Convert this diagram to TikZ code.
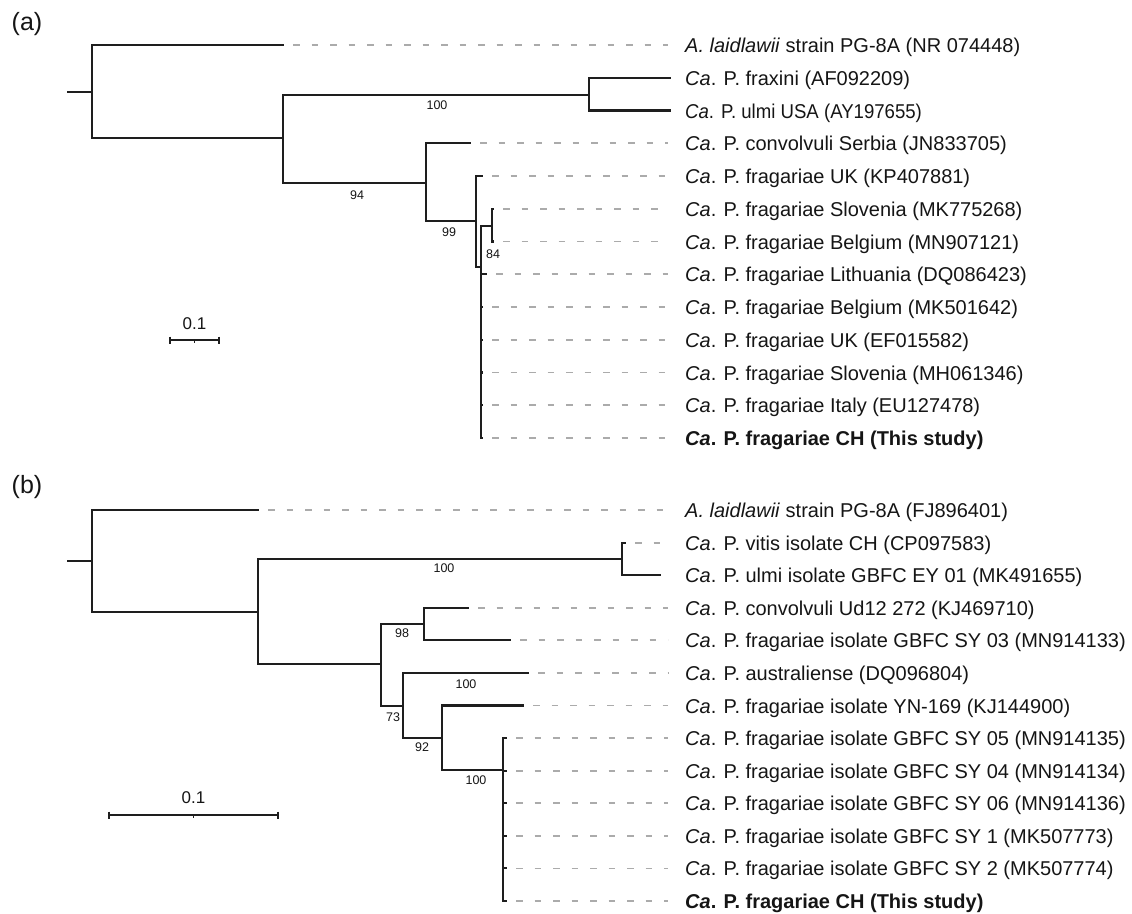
\documentclass[tikz,border=0pt]{standalone}
\usepackage{fontspec}
\setmainfont{Liberation Sans}
\usetikzlibrary{calc}
\definecolor{linec}{HTML}{1E1E1E}
\definecolor{dashc}{HTML}{ABABAB}
\definecolor{txtc}{HTML}{151515}
\newcommand{\mkleaf}[5]{%
  \coordinate (#1) at (#2,#3);
  \node[lab] (t#1) at (685,#3+7.5) {#5};
  \ifnum#4=1 \draw[dl] ($(#1)+(10,0)$) -- ($(t#1.west |- #1)+(-17,0)$);\fi
}
\begin{document}
\begin{tikzpicture}[x=1pt,y=-1pt,
  br/.style={line width=2.1pt, draw=linec, line cap=rect},
  dl/.style={line width=1.8pt, draw=dashc, dash pattern=on 6.5pt off 12pt},
  lab/.style={anchor=base west, inner sep=0pt, font=\fontsize{20}{24}\selectfont, text=txtc},
  bs/.style={inner sep=0pt, font=\fontsize{12.5}{14}\selectfont, text=txtc},
  sbl/.style={inner sep=0pt, font=\fontsize{17}{20}\selectfont, text=txtc},
  pl/.style={inner sep=0pt, font=\fontsize{25}{29}\selectfont, text=txtc},
  sb/.style={line width=2pt, draw=linec}
]
\useasboundingbox (0,0) rectangle (1132,913);

% ---------------- panel (a) ----------------
\node[pl] (pa) at (27,24) {(a)};
\coordinate (ra0) at (68,92);
\coordinate (ra) at (92,92);
\coordinate (n1) at (283,138);
\coordinate (n2) at (589,95);
\coordinate (n3) at (426,183);
\coordinate (n4) at (476,221);
\coordinate (n5) at (481,267);
\coordinate (n6) at (492,226);

\mkleaf{a1}{283}{45}{1}{\textit{A. laidlawii} strain PG-8A (NR 074448)}
\mkleaf{a2}{670}{77.75}{0}{\textit{Ca}. P. fraxini (AF092209)}
\mkleaf{a3}{670}{110.5}{0}{\scalebox{0.93}[1]{\textit{Ca}. P. ulmi USA (AY197655)}}
\mkleaf{a4}{470}{143.25}{1}{\textit{Ca}. P. convolvuli Serbia (JN833705)}
\mkleaf{a5}{482}{176}{1}{\textit{Ca}. P. fragariae UK (KP407881)}
\mkleaf{a6}{493}{208.75}{1}{\textit{Ca}. P. fragariae Slovenia (MK775268)}
\mkleaf{a7}{493}{241.5}{1}{\textit{Ca}. P. fragariae Belgium (MN907121)}
\mkleaf{a8}{486}{274.25}{1}{\textit{Ca}. P. fragariae Lithuania (DQ086423)}
\mkleaf{a9}{482}{307}{1}{\textit{Ca}. P. fragariae Belgium (MK501642)}
\mkleaf{a10}{482}{339.75}{1}{\textit{Ca}. P. fragariae UK (EF015582)}
\mkleaf{a11}{482}{372.5}{1}{\textit{Ca}. P. fragariae Slovenia (MH061346)}
\mkleaf{a12}{482}{405.25}{1}{\textit{Ca}. P. fragariae Italy (EU127478)}
\mkleaf{a13}{482}{438}{1}{\textbf{\textit{Ca}. P. fragariae CH (This study)}}

\draw[br] (ra0) -- (ra);
\draw[br] (ra) |- (a1);
\draw[br] (ra) |- (n1);
\draw[br] (n1) |- (n2);
\draw[br] (n1) |- (n3);
\draw[br] (n2) |- (a2);
\draw[br] (n2) |- (a3);
\draw[br] (n3) |- (a4);
\draw[br] (n3) |- (n4);
\draw[br] (n4) |- (a5);
\draw[br] (n4) |- (n5);
\draw[br] (n5) |- (n6);
\draw[br] (n6) |- (a6);
\draw[br] (n6) |- (a7);
\foreach \l in {a8,a9,a10,a11,a12,a13} \draw[br] (n5) |- (\l);

\node[bs] (ba1) at (437,105) {100};
\node[bs] (ba2) at (357,195) {94};
\node[bs] (ba3) at (449,232) {99};
\node[bs] (ba4) at (493,254) {84};

% scale bar (a)
\coordinate (sa1) at (170,340);
\coordinate (sa2) at (219,340);
\coordinate (sam) at (194.5,340);
\draw[sb] (sa1) -- (sa2);
\draw[sb,line width=1.5pt] ($(sa1)+(0,-3.5)$) -- ($(sa1)+(0,3.5)$);
\draw[sb,line width=1.5pt] ($(sa2)+(0,-3.5)$) -- ($(sa2)+(0,3.5)$);
\draw[sb,line width=1pt] (sam) -- ($(sam)+(0,2.5)$);
\node[sbl] (la) at (194.5,324) {0.1};

% ---------------- panel (b) ----------------
\node[pl] (pb) at (27,487) {(b)};
\coordinate (rb0) at (68,561);
\coordinate (rb) at (92,561);
\coordinate (m1) at (258,612);
\coordinate (m2) at (622,559);
\coordinate (m3) at (381,664);
\coordinate (m4) at (424,624);
\coordinate (m5) at (403,706);
\coordinate (m6) at (442,738);
\coordinate (m7) at (503,770);

\mkleaf{b1}{258}{510}{1}{\textit{A. laidlawii} strain PG-8A (FJ896401)}
\mkleaf{b2}{625}{542.6}{1}{\textit{Ca}. P. vitis isolate CH (CP097583)}
\mkleaf{b3}{660}{575.2}{0}{\textit{Ca}. P. ulmi isolate GBFC EY 01 (MK491655)}
\mkleaf{b4}{468}{607.7}{1}{\textit{Ca}. P. convolvuli Ud12 272 (KJ469710)}
\mkleaf{b5}{510}{640.3}{1}{\textit{Ca}. P. fragariae isolate GBFC SY 03 (MN914133)}
\mkleaf{b6}{528}{672.9}{1}{\textit{Ca}. P. australiense (DQ096804)}
\mkleaf{b7}{523}{705.5}{1}{\textit{Ca}. P. fragariae isolate YN-169 (KJ144900)}
\mkleaf{b8}{506}{738.1}{1}{\textit{Ca}. P. fragariae isolate GBFC SY 05 (MN914135)}
\mkleaf{b9}{506}{770.7}{1}{\textit{Ca}. P. fragariae isolate GBFC SY 04 (MN914134)}
\mkleaf{b10}{506}{803.2}{1}{\textit{Ca}. P. fragariae isolate GBFC SY 06 (MN914136)}
\mkleaf{b11}{506}{835.8}{1}{\textit{Ca}. P. fragariae isolate GBFC SY 1 (MK507773)}
\mkleaf{b12}{506}{868.4}{1}{\textit{Ca}. P. fragariae isolate GBFC SY 2 (MK507774)}
\mkleaf{b13}{506}{901}{1}{\textbf{\textit{Ca}. P. fragariae CH (This study)}}

\draw[br] (rb0) -- (rb);
\draw[br] (rb) |- (b1);
\draw[br] (rb) |- (m1);
\draw[br] (m1) |- (m2);
\draw[br] (m1) |- (m3);
\draw[br] (m2) |- (b2);
\draw[br] (m2) |- (b3);
\draw[br] (m3) |- (m4);
\draw[br] (m3) |- (m5);
\draw[br] (m4) |- (b4);
\draw[br] (m4) |- (b5);
\draw[br] (m5) |- (b6);
\draw[br] (m5) |- (m6);
\draw[br] (m6) |- (b7);
\draw[br] (m6) |- (m7);
\foreach \l in {b8,b9,b10,b11,b12,b13} \draw[br] (m7) |- (\l);

\node[bs] (bb1) at (444,568) {100};
\node[bs] (bb2) at (402,633) {98};
\node[bs] (bb3) at (466,684) {100};
\node[bs] (bb4) at (393,717) {73};
\node[bs] (bb5) at (422,747) {92};
\node[bs] (bb6) at (476,780) {100};

% scale bar (b)
\coordinate (sb1) at (109,815);
\coordinate (sb2) at (278,815);
\coordinate (sbm) at (193.5,815);
\draw[sb] (sb1) -- (sb2);
\draw[sb,line width=1.5pt] ($(sb1)+(0,-3.5)$) -- ($(sb1)+(0,3.5)$);
\draw[sb,line width=1.5pt] ($(sb2)+(0,-3.5)$) -- ($(sb2)+(0,3.5)$);
\draw[sb,line width=1pt] (sbm) -- ($(sbm)+(0,2.5)$);
\node[sbl] (lb) at (193.5,798) {0.1};
\end{tikzpicture}
\end{document}
